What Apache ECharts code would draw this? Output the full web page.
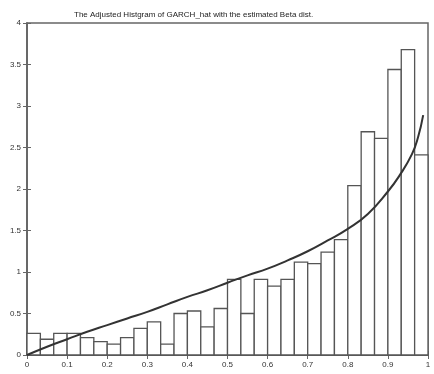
<!DOCTYPE html>
<html><head><meta charset="utf-8">
<script src="https://cdn.jsdelivr.net/npm/echarts@6/dist/echarts.min.js"></script>
<style>html,body{margin:0;padding:0;background:#fff}#c{width:434px;height:374px}</style>
</head><body><div id="c"></div>
<script>
const titleText = "The Adjusted Histgram of GARCH_hat with the estimated Beta dist.";
const binCount = 30;
const binHeights = [0.26,0.19,0.26,0.26,0.21,0.16,0.13,0.21,0.32,0.40,0.13,0.50,0.53,0.34,0.56,0.91,0.50,0.91,0.83,0.91,1.12,1.10,1.24,1.39,2.04,2.69,2.61,3.44,3.68,2.41];
const curveX = [0,0.05,0.1,0.15,0.2,0.25,0.3,0.35,0.4,0.45,0.5,0.55,0.6,0.65,0.7,0.75,0.8,0.85,0.9,0.93,0.96,0.975,0.988];
const curveY = [0,0.10,0.19,0.28,0.36,0.44,0.52,0.61,0.70,0.78,0.87,0.96,1.04,1.14,1.25,1.38,1.52,1.70,1.97,2.17,2.42,2.62,2.89];
const xTicks = [0,0.1,0.2,0.3,0.4,0.5,0.6,0.7,0.8,0.9,1];
const yTicks = [0,0.5,1,1.5,2,2.5,3,3.5,4];

const bins = binHeights.map((h,i)=>[i/binCount,(i+1)/binCount,h]);
const curve = curveX.map((x,i)=>[x,curveY[i]]);
const font = "Liberation Sans";
const axisCol = "#666";
const lblStyle = {color:"#333",fontSize:8,fontFamily:font};
const tickStyle = {show:true,inside:true,length:4,lineStyle:{color:axisCol}};

const chart = echarts.init(document.getElementById('c'));
chart.setOption({
  animation:false,
  title:{text:titleText,left:69,top:6,textStyle:{fontSize:8,fontWeight:'normal',color:'#222',fontFamily:font}},
  grid:{left:27,right:6,top:23,bottom:19,show:true,borderColor:axisCol,borderWidth:1.5,backgroundColor:'transparent'},
  xAxis:[
    {type:'value',min:0,max:1,interval:0.1,position:'bottom',
     axisLine:{show:true,lineStyle:{color:axisCol,width:1.5}},axisTick:tickStyle,
     splitLine:{show:false},
     axisLabel:{...lblStyle,margin:6,formatter:v=>String(Math.round(v*10)/10)}},
    {type:'value',min:0,max:1,interval:0.1,position:'top',
     axisLine:{show:true,lineStyle:{color:axisCol,width:1.5}},axisTick:tickStyle,
     splitLine:{show:false},axisLabel:{show:false}}
  ],
  yAxis:[
    {type:'value',min:0,max:4,interval:0.5,position:'left',
     axisLine:{show:true,lineStyle:{color:axisCol,width:1.5}},axisTick:tickStyle,
     splitLine:{show:false},
     axisLabel:{...lblStyle,margin:6,formatter:v=>String(v)}},
    {type:'value',min:0,max:4,interval:0.5,position:'right',
     axisLine:{show:true,lineStyle:{color:axisCol,width:1.5}},axisTick:tickStyle,
     splitLine:{show:false},axisLabel:{show:false}}
  ],
  series:[
    {type:'custom',xAxisIndex:0,yAxisIndex:0,data:bins,
     renderItem:(params,api)=>{
       const p0 = api.coord([api.value(0),api.value(2)]);
       const p1 = api.coord([api.value(1),0]);
       return {type:'rect',shape:{x:p0[0],y:p0[1],width:p1[0]-p0[0],height:p1[1]-p0[1]},
         style:{fill:'#fff',stroke:'#555',lineWidth:1.3}};
     }},
    {type:'line',xAxisIndex:0,yAxisIndex:0,data:curve,smooth:0.5,showSymbol:false,
     lineStyle:{color:'#333',width:2}},
    {type:'line',xAxisIndex:1,yAxisIndex:1,data:[[0,0],[1,4]],showSymbol:false,silent:true,
     lineStyle:{opacity:0}}
  ]
});
</script></body></html>
